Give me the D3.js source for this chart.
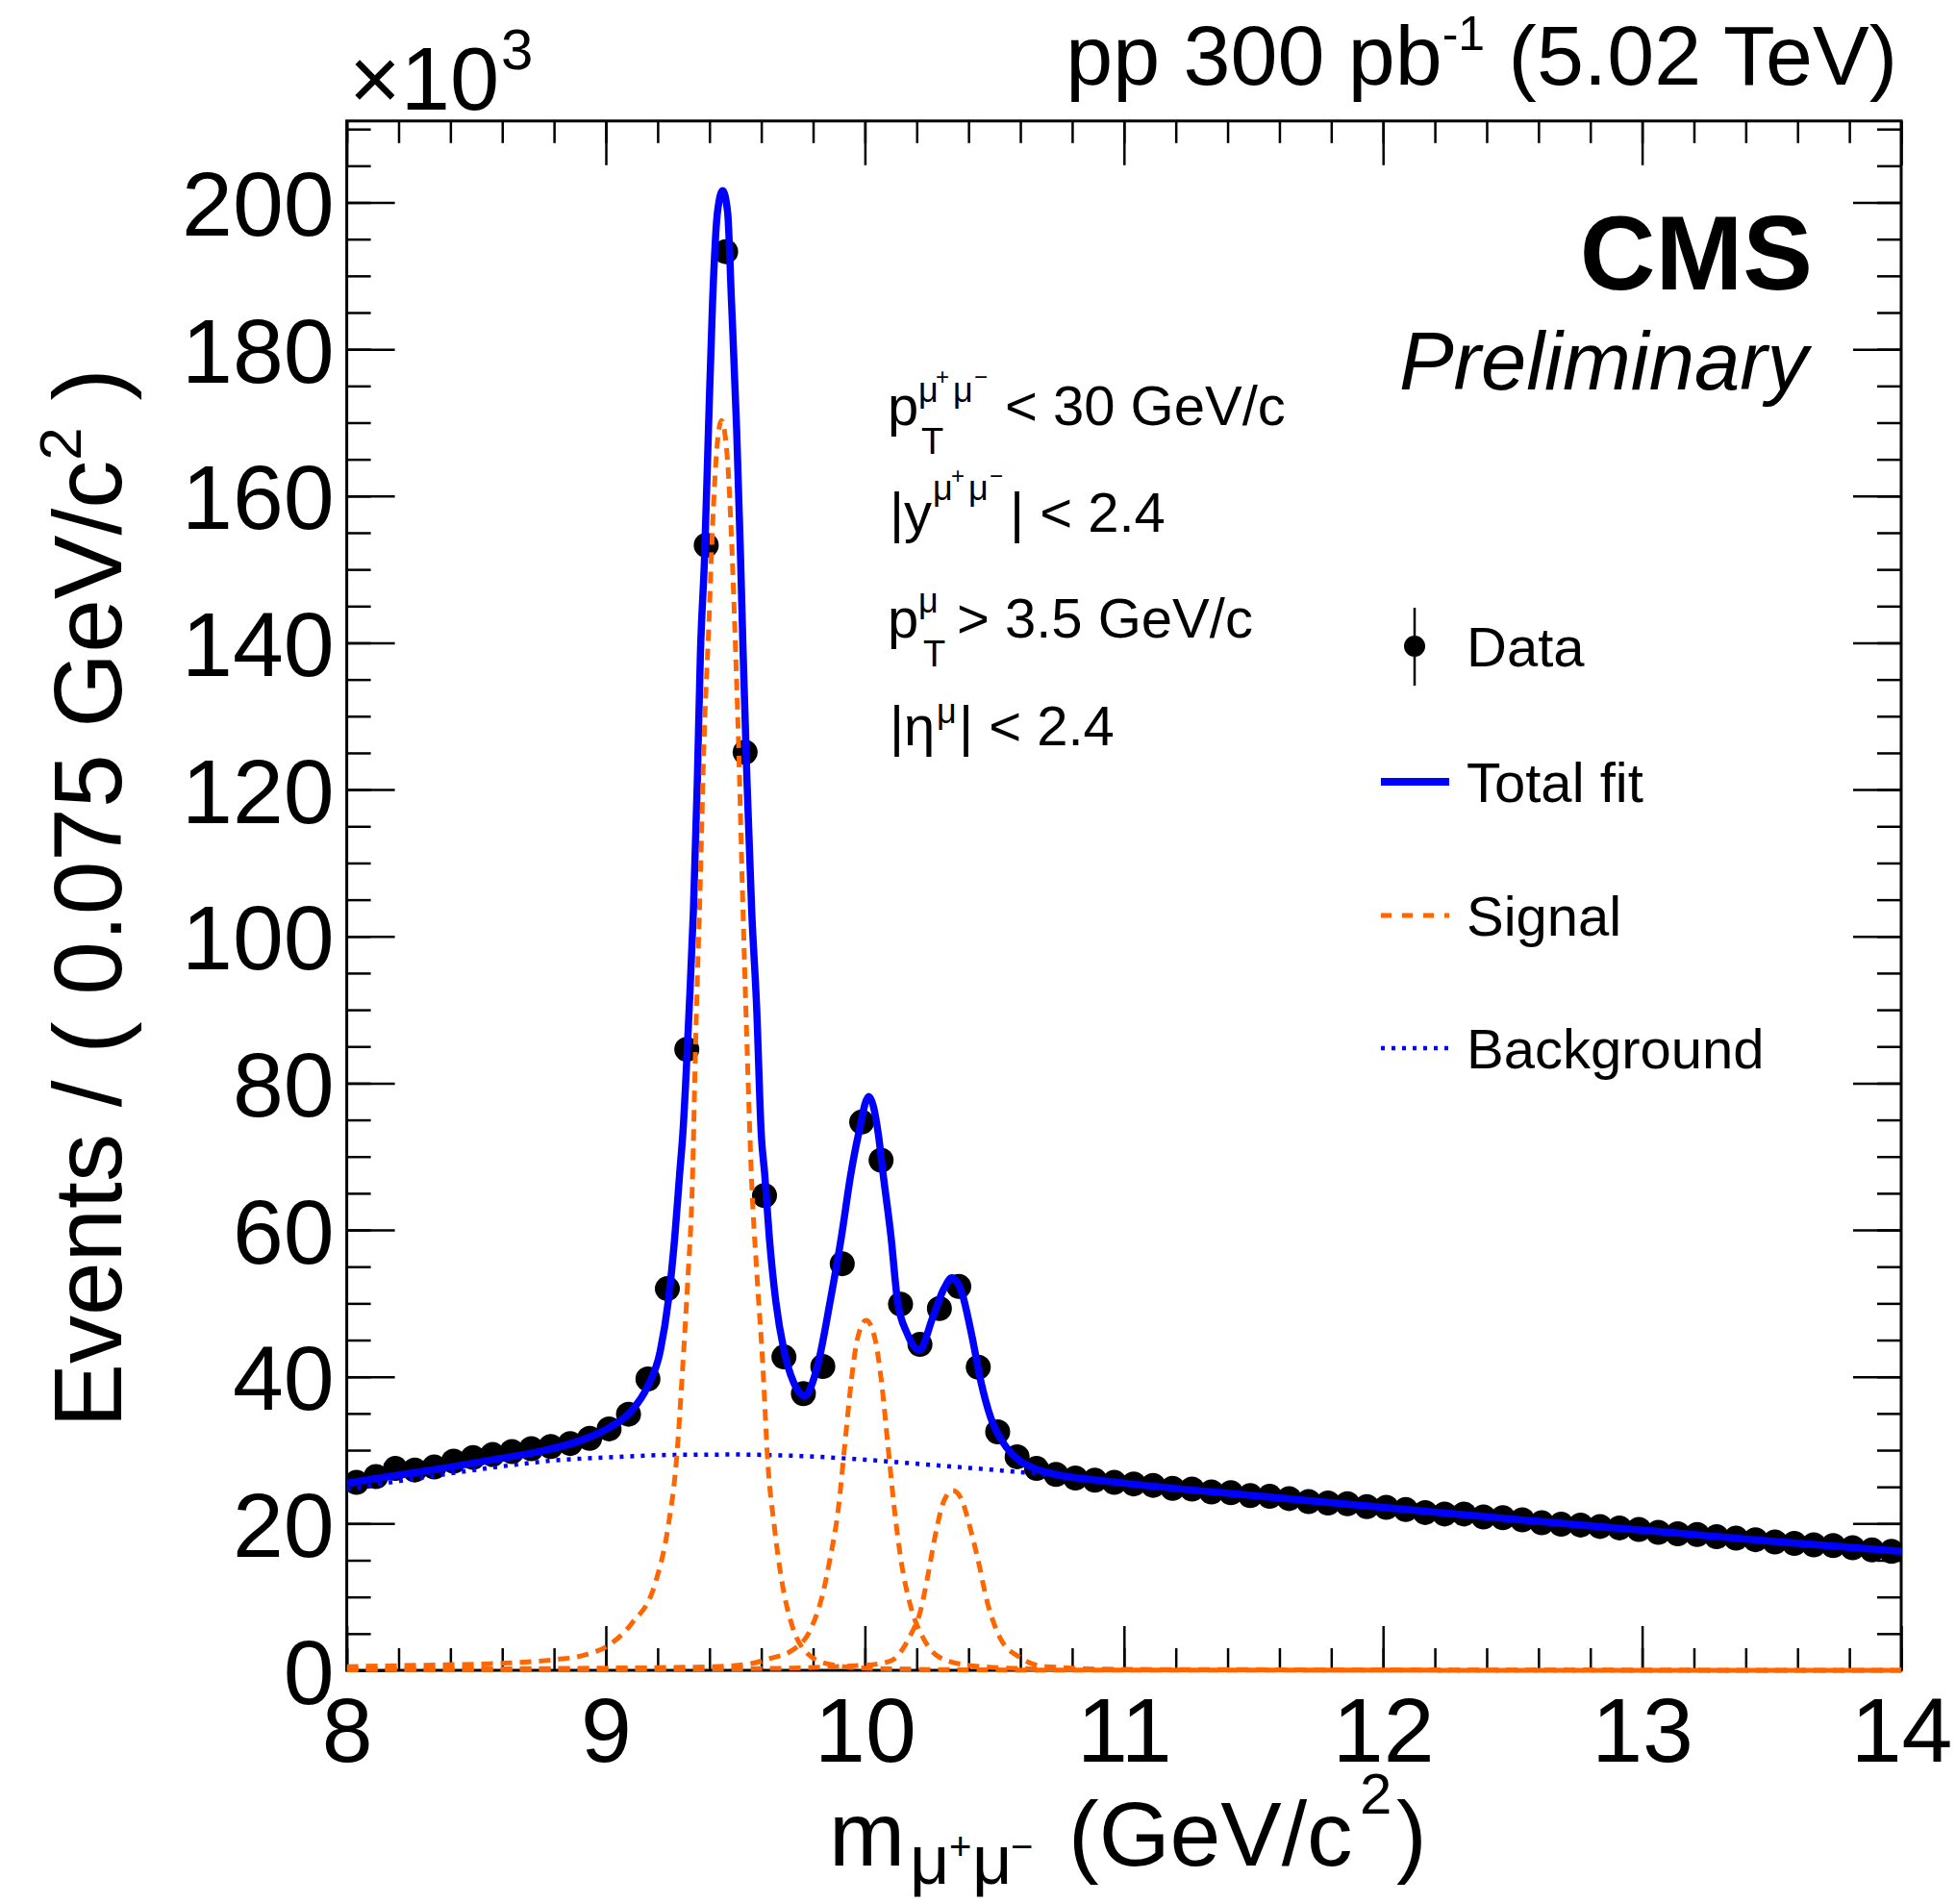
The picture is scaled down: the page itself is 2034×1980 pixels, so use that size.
<!DOCTYPE html>
<html>
<head>
<meta charset="utf-8">
<script src="https://cdn.jsdelivr.net/npm/d3@7"></script>
<style>
  body { margin: 0; background: #fff; }
  svg { display: block; font-family: "Liberation Sans", Arial, Helvetica, sans-serif; }
</style>
</head>
<body>
<svg id="chart" width="2034" height="1980"></svg>
<script>
/* global d3 */

// Dimuon mass spectrum, events per 0.075 GeV bin, in units of 10^3.
const BIN_LO = 8;
const BIN_WIDTH = 0.075;
const dataCounts = [
  25.6, 26.4, 27.5, 27.3, 27.7, 28.5, 29.0, 29.4, 29.8, 30.2, 30.5, 30.9, 31.6, 32.9, 34.9, 39.7,
  52.0, 84.6, 153.3, 193.3, 125.1, 64.7, 42.7, 37.7, 41.4, 55.4, 74.7, 69.5, 49.9, 44.4, 49.3, 52.3,
  41.3, 32.5, 29.1, 27.5,
  26.7, 26.2, 25.9, 25.6, 25.4, 25.2, 24.8, 24.7, 24.3, 24.2, 23.8, 23.7, 23.4, 23.0, 22.8,
  22.7, 22.3, 22.2, 21.9, 21.5, 21.3, 21.3, 20.9, 20.8, 20.5, 20.1, 19.9, 19.8, 19.6, 19.4,
  19.2, 18.8, 18.6, 18.5, 18.2, 18.0, 17.8, 17.5, 17.3, 17.1, 17.0, 16.7, 16.4, 16.2
];
const binCenters = dataCounts.map((_, i) => BIN_LO + BIN_WIDTH * (i + 0.5));

// Fit curves (mass, value).
const totalFitMass = [8.00, 8.20, 8.40, 8.60, 8.74, 8.90, 9.01, 9.10, 9.16, 9.21, 9.241, 9.266, 9.285, 9.297,
  9.322, 9.338, 9.353, 9.365, 9.381, 9.396, 9.412, 9.431, 9.451, 9.470, 9.485, 9.505, 9.520, 9.530,
  9.545, 9.563, 9.582, 9.600, 9.613, 9.631, 9.656, 9.687, 9.724, 9.767, 9.817, 9.866, 9.909, 9.946,
  9.975, 10.015, 10.052, 10.070, 10.101, 10.126, 10.163, 10.210, 10.262, 10.305, 10.336, 10.373,
  10.411, 10.448, 10.485, 10.534, 10.596, 10.656, 10.75, 10.85, 11.0, 11.5, 12.0, 12.5, 13.0, 13.5, 14.0];
const totalFitVal = [25.5, 26.6, 27.7, 28.9, 29.8, 31.3, 33.0, 35.4, 38.6, 43.5, 50.3, 59.0, 67.7, 73.0,
  90.4, 103.5, 121.0, 138.5, 151.6, 169.0, 186.5, 198.7, 201.6, 198.7, 186.5, 169.0, 151.6, 138.5,
  121.0, 103.5, 90.4, 73.0, 67.7, 59.0, 50.3, 43.7, 39.3, 37.4, 41.5, 50.3, 59.0, 67.7,
  73.0, 78.2, 73.0, 67.7, 59.0, 50.3, 45.9, 43.6, 48.1, 52.0, 53.5, 51.6,
  45.9, 39.3, 34.5, 31.0, 28.6, 27.5, 26.6, 26.1, 25.5, 23.8, 22.2, 20.6, 19.1, 17.6, 16.2];

const bkgMass = [8.0, 8.3, 8.6, 8.8, 9.0, 9.25, 9.5, 9.75, 10.0, 10.25, 10.5, 10.75, 11.0, 11.5, 12.0, 12.5, 13.0, 13.5, 14.0];
const bkgVal = [24.7, 26.3, 27.8, 28.6, 29.0, 29.35, 29.4, 29.2, 28.7, 28.0, 27.3, 26.5, 25.5, 23.8, 22.2, 20.6, 19.1, 17.6, 16.2];

const sig1SMass = [8.0, 8.3, 8.59, 8.80, 8.93, 9.01, 9.10, 9.19, 9.241, 9.272, 9.297, 9.315, 9.334, 9.347,
  9.365, 9.378, 9.398, 9.412, 9.425, 9.446, 9.470, 9.483, 9.497, 9.513, 9.526, 9.544, 9.563, 9.582,
  9.606, 9.625, 9.650, 9.681, 9.718, 9.767, 9.854, 10.0, 10.5, 14.0];
const sig1SVal = [0.5, 0.7, 0.95, 1.45, 2.2, 3.4, 6.4, 11.8, 19.7, 28.4, 41.5, 52.4, 66.4, 86.1,
  107.9, 125.4, 142.8, 155.9, 164.7, 170.3, 164.7, 155.9, 142.8, 125.4, 107.9, 86.1, 66.4, 54.6,
  41.5, 28.4, 19.7, 11.8, 6.2, 2.7, 0.9, 0.3, 0.05, 0.0];

const sig2SMass = [8.0, 9.0, 9.41, 9.557, 9.631, 9.718, 9.792, 9.835, 9.866, 9.897, 9.922, 9.947, 9.970,
  10.005, 10.040, 10.064, 10.089, 10.114, 10.138, 10.176, 10.225, 10.287, 10.398, 10.6, 11.0, 14.0];
const sig2SVal = [0.15, 0.3, 0.5, 0.9, 1.6, 2.7, 5.7, 10.1, 15.3, 21.9, 30.6, 39.3, 45.0,
  47.7, 45.0, 39.3, 30.6, 21.9, 15.3, 8.8, 4.4, 1.8, 0.7, 0.25, 0.08, 0.0];

const sig3SMass = [8.0, 9.5, 10.0, 10.10, 10.176, 10.213, 10.244, 10.274, 10.305, 10.340, 10.373, 10.404,
  10.435, 10.473, 10.522, 10.596, 10.7, 11.0, 14.0];
const sig3SVal = [0.08, 0.2, 0.7, 1.3, 4.8, 7.9, 13.1, 18.8, 23.1, 24.5, 23.3, 19.7,
  15.3, 9.2, 4.4, 1.8, 0.5, 0.12, 0.0];

const xMajorTicks = [8, 9, 10, 11, 12, 13, 14];
const yMajorTicks = [0, 20, 40, 60, 80, 100, 120, 140, 160, 180, 200];

const legendLabels = ["Data", "Total fit", "Signal", "Background"];

const BLUE = "#0000ff";
const ORANGE = "#ff6600";

const svg = d3.select("#chart");
const frame = { left: 360.6, right: 1977, top: 125.8, bottom: 1737 };

const x = d3.scaleLinear().domain([8, 14]).range([frame.left, frame.right]);
const y = d3.scaleLinear().domain([0, 211.1]).range([frame.bottom, frame.top]);

const xMinorTicks = d3.range(0, 31).map((i) => 8 + i * 0.2);
const yMinorTicks = d3.range(0, 43).map((i) => i * 5);

drawAxes();
drawCurves();
drawTexts();
drawLegend();

function styleAxis(g) {
  g.attr("font-family", null).attr("font-size", null);
  g.select(".domain").remove();
  g.selectAll(".tick line").attr("stroke", "#000").attr("stroke-width", 2.5);
}

function drawAxes() {
  // bottom
  const gxb = svg.append("g")
    .attr("transform", `translate(0,${frame.bottom})`)
    .call(d3.axisBottom(x).tickValues(xMajorTicks).tickSize(-46).tickFormat(d3.format("d")));
  styleAxis(gxb);
  gxb.selectAll(".tick text")
    .attr("fill", "#000").attr("font-size", 95).attr("y", 95).attr("dy", 0);
  styleAxis(svg.append("g")
    .attr("transform", `translate(0,${frame.bottom})`)
    .call(d3.axisBottom(x).tickValues(xMinorTicks).tickSize(-23).tickFormat("")));

  // top (mirror)
  styleAxis(svg.append("g")
    .attr("transform", `translate(0,${frame.top})`)
    .call(d3.axisTop(x).tickValues(xMajorTicks).tickSize(-46).tickFormat("")));
  styleAxis(svg.append("g")
    .attr("transform", `translate(0,${frame.top})`)
    .call(d3.axisTop(x).tickValues(xMinorTicks).tickSize(-23).tickFormat("")));

  // left
  const gyl = svg.append("g")
    .attr("transform", `translate(${frame.left},0)`)
    .call(d3.axisLeft(y).tickValues(yMajorTicks).tickSize(-50).tickFormat(d3.format("d")));
  styleAxis(gyl);
  gyl.selectAll(".tick text")
    .attr("fill", "#000").attr("font-size", 95).attr("x", -13).attr("dy", 34);
  styleAxis(svg.append("g")
    .attr("transform", `translate(${frame.left},0)`)
    .call(d3.axisLeft(y).tickValues(yMinorTicks).tickSize(-25).tickFormat("")));

  // right (mirror)
  styleAxis(svg.append("g")
    .attr("transform", `translate(${frame.right},0)`)
    .call(d3.axisRight(y).tickValues(yMajorTicks).tickSize(-50).tickFormat("")));
  styleAxis(svg.append("g")
    .attr("transform", `translate(${frame.right},0)`)
    .call(d3.axisRight(y).tickValues(yMinorTicks).tickSize(-25).tickFormat("")));

  svg.append("rect")
    .attr("x", frame.left).attr("y", frame.top)
    .attr("width", frame.right - frame.left).attr("height", frame.bottom - frame.top)
    .attr("fill", "none").attr("stroke", "#000").attr("stroke-width", 3);
}

function drawCurves() {
  svg.append("clipPath").attr("id", "plot-clip")
    .append("rect")
    .attr("x", frame.left).attr("y", frame.top)
    .attr("width", frame.right - frame.left).attr("height", frame.bottom - frame.top + 3);

  const plot = svg.append("g").attr("clip-path", "url(#plot-clip)");
  const line = d3.line()
    .x((d) => x(d[0]))
    .y((d) => y(d[1]))
    .curve(d3.curveMonotoneX);
  const pairs = (ms, vs) => ms.map((m, i) => [m, vs[i]]);

  plot.append("g").selectAll("circle")
    .data(binCenters.map((m, i) => [m, dataCounts[i]]))
    .join("circle")
    .attr("cx", (d) => x(d[0]))
    .attr("cy", (d) => y(d[1]))
    .attr("r", 13)
    .attr("fill", "#000");

  plot.append("path")
    .attr("d", line(pairs(totalFitMass, totalFitVal)))
    .attr("fill", "none").attr("stroke", BLUE).attr("stroke-width", 7.5)
    .attr("stroke-linejoin", "round");

  plot.append("path")
    .attr("d", line(pairs(bkgMass, bkgVal)))
    .attr("fill", "none").attr("stroke", BLUE).attr("stroke-width", 4.5)
    .attr("stroke-dasharray", "4,7");

  [[sig1SMass, sig1SVal], [sig2SMass, sig2SVal], [sig3SMass, sig3SVal]].forEach(([ms, vs]) => {
    plot.append("path")
      .attr("d", line(pairs(ms, vs)))
      .attr("fill", "none").attr("stroke", ORANGE).attr("stroke-width", 5)
      .attr("stroke-dasharray", "12,8");
  });
}

function addText(px, py, str, size, extra) {
  const t = svg.append("text")
    .attr("x", px).attr("y", py)
    .attr("font-size", size).attr("fill", "#000")
    .text(str);
  if (extra) Object.entries(extra).forEach(([k, v]) => t.attr(k, v));
  return t;
}

function drawTexts() {
  // multiplier
  const mult = addText(363, 114, "\u00d710", 92);
  mult.append("tspan").attr("font-size", 60).attr("dy", -42).attr("dx", 2).text("3");

  // lumi label
  const lumi = svg.append("text")
    .attr("x", 1973).attr("y", 88).attr("text-anchor", "end")
    .attr("font-size", 88).attr("fill", "#000");
  lumi.append("tspan").text("pp 300 pb");
  lumi.append("tspan").attr("font-size", 50).attr("dy", -36).text("-1");
  lumi.append("tspan").attr("dy", 36).text(" (5.02 TeV)");

  addText(1885, 301, "CMS", 109, { "text-anchor": "end", "font-weight": "bold" });
  addText(1880, 405, "Preliminary", 85, { "text-anchor": "end", "font-style": "italic" });

  // selection cuts
  addText(923, 442, "p", 58);
  addText(958, 472, "T", 38);
  addText(955, 418, "\u03bc", 36);
  addText(973, 400, "+", 24);
  addText(991, 418, "\u03bc", 36);
  addText(1013, 400, "\u2212", 24);
  addText(1045, 442, "< 30 GeV/c", 58);

  addText(925, 553, "|y", 58);
  addText(970, 520, "\u03bc", 36);
  addText(989, 503, "+", 24);
  addText(1007, 520, "\u03bc", 36);
  addText(1029, 503, "\u2212", 24);
  addText(1050, 553, "| < 2.4", 58);

  addText(923, 663, "p", 58);
  addText(960, 693, "T", 38);
  addText(955, 637, "\u03bc", 36);
  addText(995, 663, "> 3.5 GeV/c", 58);

  addText(925, 775, "|\u03b7", 58);
  addText(974, 752, "\u03bc", 36);
  addText(997, 775, "| < 2.4", 58);

  // x title
  addText(862, 1940, "m", 95);
  addText(946, 1959, "\u03bc", 72);
  addText(987, 1934, "+", 40);
  addText(1011, 1959, "\u03bc", 72);
  addText(1051, 1934, "\u2212", 40);
  addText(1111, 1940, "(GeV/c", 95);
  addText(1414, 1886, "2", 60);
  addText(1452, 1940, ")", 95);

  // y title
  const yt = svg.append("text")
    .attr("transform", "translate(126,934) rotate(-90)")
    .attr("text-anchor", "middle").attr("font-size", 100).attr("fill", "#000");
  yt.append("tspan").text("Events / ( 0.075 GeV/c");
  yt.append("tspan").attr("font-size", 62).attr("dy", -42).text("2");
  yt.append("tspan").attr("dy", 42).text(" )");
}

function drawLegend() {
  const rowsY = [672, 813, 952, 1090];
  const symX0 = 1436, symX1 = 1507, textX = 1525;
  const lg = svg.append("g");

  // Data
  lg.append("line")
    .attr("x1", 1471).attr("x2", 1471)
    .attr("y1", rowsY[0] - 40).attr("y2", rowsY[0] + 41)
    .attr("stroke", "#000").attr("stroke-width", 2.5);
  lg.append("circle").attr("cx", 1471).attr("cy", rowsY[0]).attr("r", 11).attr("fill", "#000");

  lg.append("line")
    .attr("x1", symX0).attr("x2", symX1).attr("y1", rowsY[1]).attr("y2", rowsY[1])
    .attr("stroke", BLUE).attr("stroke-width", 8);
  lg.append("line")
    .attr("x1", symX0).attr("x2", symX1).attr("y1", rowsY[2]).attr("y2", rowsY[2])
    .attr("stroke", ORANGE).attr("stroke-width", 5).attr("stroke-dasharray", "11,11");
  lg.append("line")
    .attr("x1", symX0).attr("x2", symX1).attr("y1", rowsY[3]).attr("y2", rowsY[3])
    .attr("stroke", BLUE).attr("stroke-width", 4.5).attr("stroke-dasharray", "4,7");

  legendLabels.forEach((label, i) => {
    lg.append("text")
      .attr("x", textX).attr("y", rowsY[i] + 21)
      .attr("font-size", 58).attr("fill", "#000")
      .text(label);
  });
}
</script>
</body>
</html>
